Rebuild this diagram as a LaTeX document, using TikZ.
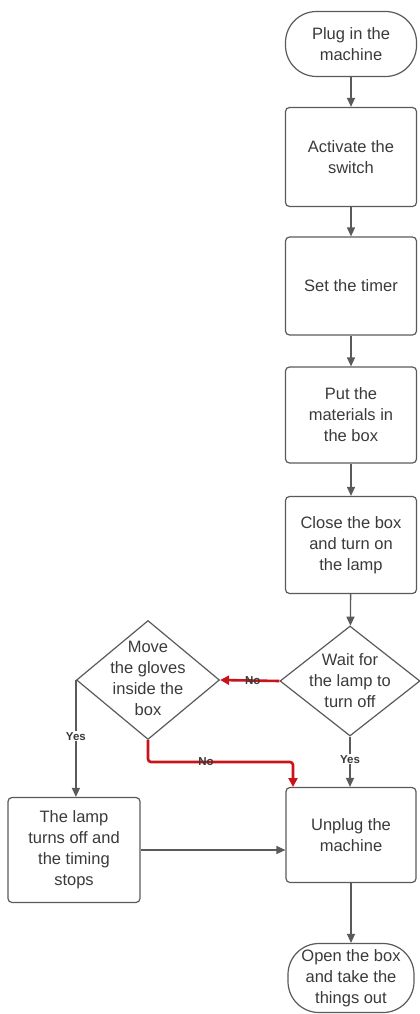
\documentclass[tikz,border=0pt]{standalone}
\usepackage{fontspec}
\setmainfont{Liberation Sans}
\usetikzlibrary{arrows.meta,shapes.geometric}
\definecolor{linegray}{HTML}{5A5A5A}
\definecolor{textgray}{HTML}{3A3A3A}
\definecolor{flowred}{HTML}{C81418}
\begin{document}
\begin{tikzpicture}[x=1pt,y=-1pt,
  base/.style={draw=linegray, line width=1.2pt, align=center, text=textgray,
    font=\fontsize{16.5}{21}\selectfont, inner sep=0pt},
  box/.style={base, rounded corners=4pt, minimum width=131pt},
  term/.style={base, rounded corners=31pt},
  dia/.style={draw=linegray, line width=1.2pt, diamond, inner sep=0pt},
  dtext/.style={align=center, text=textgray, font=\fontsize{16.5}{21}\selectfont, inner sep=0pt},
  arr/.style={draw=linegray, line width=1.3pt, -{Triangle[length=9pt,width=8pt]}},
  redarr/.style={draw=flowred, line width=2.6pt, rounded corners=3pt, -{Triangle[length=9pt,width=9pt]}},
  lab/.style={fill=white, font=\bfseries\fontsize{11.5}{13}\selectfont, text=textgray, inner sep=1pt}
]
\useasboundingbox (0,0) rectangle (420,1014);

\node[term, minimum width=131pt, minimum height=65pt] (plug) at (351,44) {Plug in the\\machine};
\node[box, minimum height=99pt] (act) at (351,157) {Activate the\\switch};
\node[box, minimum height=98pt] (timer) at (351,286) {Set the timer};
\node[box, minimum height=96pt] (put) at (351,415) {Put the\\materials in\\the box};
\node[box, minimum height=97pt] (close) at (351,545) {Close the box\\and turn on\\the lamp};

\node[dia, minimum width=140pt, minimum height=110pt] (wait) at (350,681) {};
\node[dtext] (waitt) at (350,681) {Wait for\\the lamp to\\turn off};

\node[dia, minimum width=143pt, minimum height=119pt] (move) at (148,680) {};
\node[dtext] (movet) at (148,678) {Move\\the gloves\\inside the\\box};

\node[box, minimum height=95pt, minimum width=130pt] (unplug) at (351,835) {Unplug the\\machine};
\node[box, minimum height=105pt, minimum width=132pt] (lamp) at (74,850) {The lamp\\turns off and\\the timing\\stops};
\node[term, minimum width=126pt, minimum height=69pt] (open) at (351,978) {Open the box\\and take the\\things out};

\draw[arr] (plug) -- (act);
\draw[arr] (act) -- (timer);
\draw[arr] (timer) -- (put);
\draw[arr] (put) -- (close);
\draw[arr] (close) -- (wait);
\draw[arr] (wait.south) -- node[lab, pos=0.45] (yes1) {Yes} (wait.south |- unplug.north);
\draw[arr] (unplug) -- (open);
\draw[arr] (move.west) -- node[lab, pos=0.48] (yes2) {Yes} (move.west |- lamp.north);
\draw[arr] (lamp.east) -- (lamp.east -| unplug.west);

\coordinate (rc) at (293,787);
\draw[redarr] (wait.west) -- node[lab, pos=0.45, fill=none] (no1) {No} (move.east);
\draw[redarr] (move.south) |- node[lab, pos=0.7, fill=none] (no2) {No} (rc |- 0,762) -- (rc);
\end{tikzpicture}
\end{document}
